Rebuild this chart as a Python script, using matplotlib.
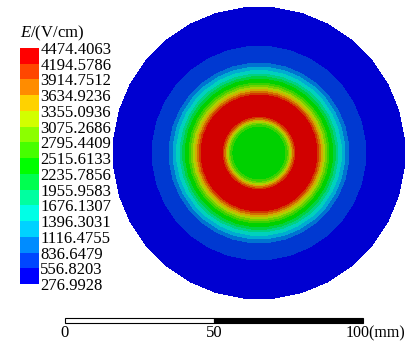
import numpy as np
import matplotlib
matplotlib.use('Agg')
import matplotlib.pyplot as plt
import matplotlib.tri as mtri
from matplotlib.colors import ListedColormap, BoundaryNorm
from matplotlib.patches import Rectangle

plt.rcParams['font.family'] = 'Liberation Serif'
plt.rcParams['mathtext.fontset'] = 'custom'
plt.rcParams['mathtext.rm'] = 'Liberation Serif'
plt.rcParams['mathtext.it'] = 'Liberation Serif:italic'

# legend levels (V/cm)
level_labels = ['276.9928', '556.8203', '836.6479', '1116.4755', '1396.3031',
                '1676.1307', '1955.9583', '2235.7856', '2515.6133', '2795.4409',
                '3075.2686', '3355.0936', '3634.9236', '3914.7512', '4194.5786',
                '4474.4063']
levels = [float(s) for s in level_labels]

# band colours, bottom -> top
band_colors = ['#0000ff', '#0046ff', '#008cff', '#00d2ff', '#00ffe6',
               '#00ffa0', '#00ff50', '#00ff00', '#46ff00', '#8cff00',
               '#d2ff00', '#ffd200', '#ff8c00', '#ff4600', '#ff0000']

# radial profile of the field (radius in mm)
r_mm = [0, 7.4, 9.1, 10.1, 11.1, 12.4, 15.8, 19.5, 20.8, 22.1, 23.5,
        24.8, 26.5, 28.9, 30.2, 35.9, 49.0]
e_val = [2390, 2440, 2515, 2900, 3500, 4194, 4380, 4194, 3600, 3075, 2515,
         2235, 1676, 1116, 836, 556, 330]

center = (65.1, 0.0)
n_ang = 32

# mesh nodes on rings
xs, ys, zs = [center[0]], [center[1]], [e_val[0]]
ang = np.linspace(0, 2 * np.pi, n_ang, endpoint=False) + np.pi / n_ang
for r, e in zip(r_mm[1:], e_val[1:]):
    xs.extend(center[0] + r * np.cos(ang))
    ys.extend(center[1] + r * np.sin(ang))
    zs.extend([e] * n_ang)
tri = mtri.Triangulation(xs, ys)

disk_colors = [tuple(0.82 * c for c in matplotlib.colors.to_rgb(col)) for col in band_colors]
cmap = ListedColormap(disk_colors)
norm = BoundaryNorm(levels, cmap.N)

fig = plt.figure(figsize=(4.09, 3.47), dpi=100)
ax = fig.add_axes([0, 0, 1, 1])
ax.tricontourf(tri, zs, levels=levels, cmap=cmap, norm=norm, extend='both')
ax.set_xlim(-21.81, 115.44)
ax.set_ylim(-65.1, 51.34)
ax.set_aspect('equal')
ax.axis('off')

# scale bar
ax.add_patch(Rectangle((0, -57.2), 50, 1.7, facecolor='white', edgecolor='black', lw=0.8))
ax.add_patch(Rectangle((50, -57.2), 50, 1.7, facecolor='black', edgecolor='black', lw=0.8))
ax.text(0, -60.4, '0', ha='center', va='center', fontsize=12)
ax.text(50, -60.4, '50', ha='center', va='center', fontsize=12)
ax.text(94.2, -60.4, '100(mm)', ha='left', va='center', fontsize=11.5)

# legend bar
cax = fig.add_axes([20 / 409, (347 - 284) / 347, 19 / 409, 236 / 347])
mids = [(a + b) / 2 for a, b in zip(levels[:-1], levels[1:])]
heights = [b - a for a, b in zip(levels[:-1], levels[1:])]
cax.barh(mids, [1] * len(mids), height=heights, left=0, color=band_colors)
cax.set_xlim(0, 1)
cax.set_ylim(levels[0], levels[-1])
cax.set_xticks([])
cax.yaxis.tick_right()
cax.set_yticks(levels)
cax.set_yticklabels(level_labels, fontsize=12)
cax.tick_params(axis='y', length=0, pad=1)
for s in cax.spines.values():
    s.set_visible(False)

fig.text(20 / 409, 1 - 33 / 347, r'$\it{E}$/(V/cm)', ha='left', va='center', fontsize=12)

fig.savefig('out.png', dpi=100)
